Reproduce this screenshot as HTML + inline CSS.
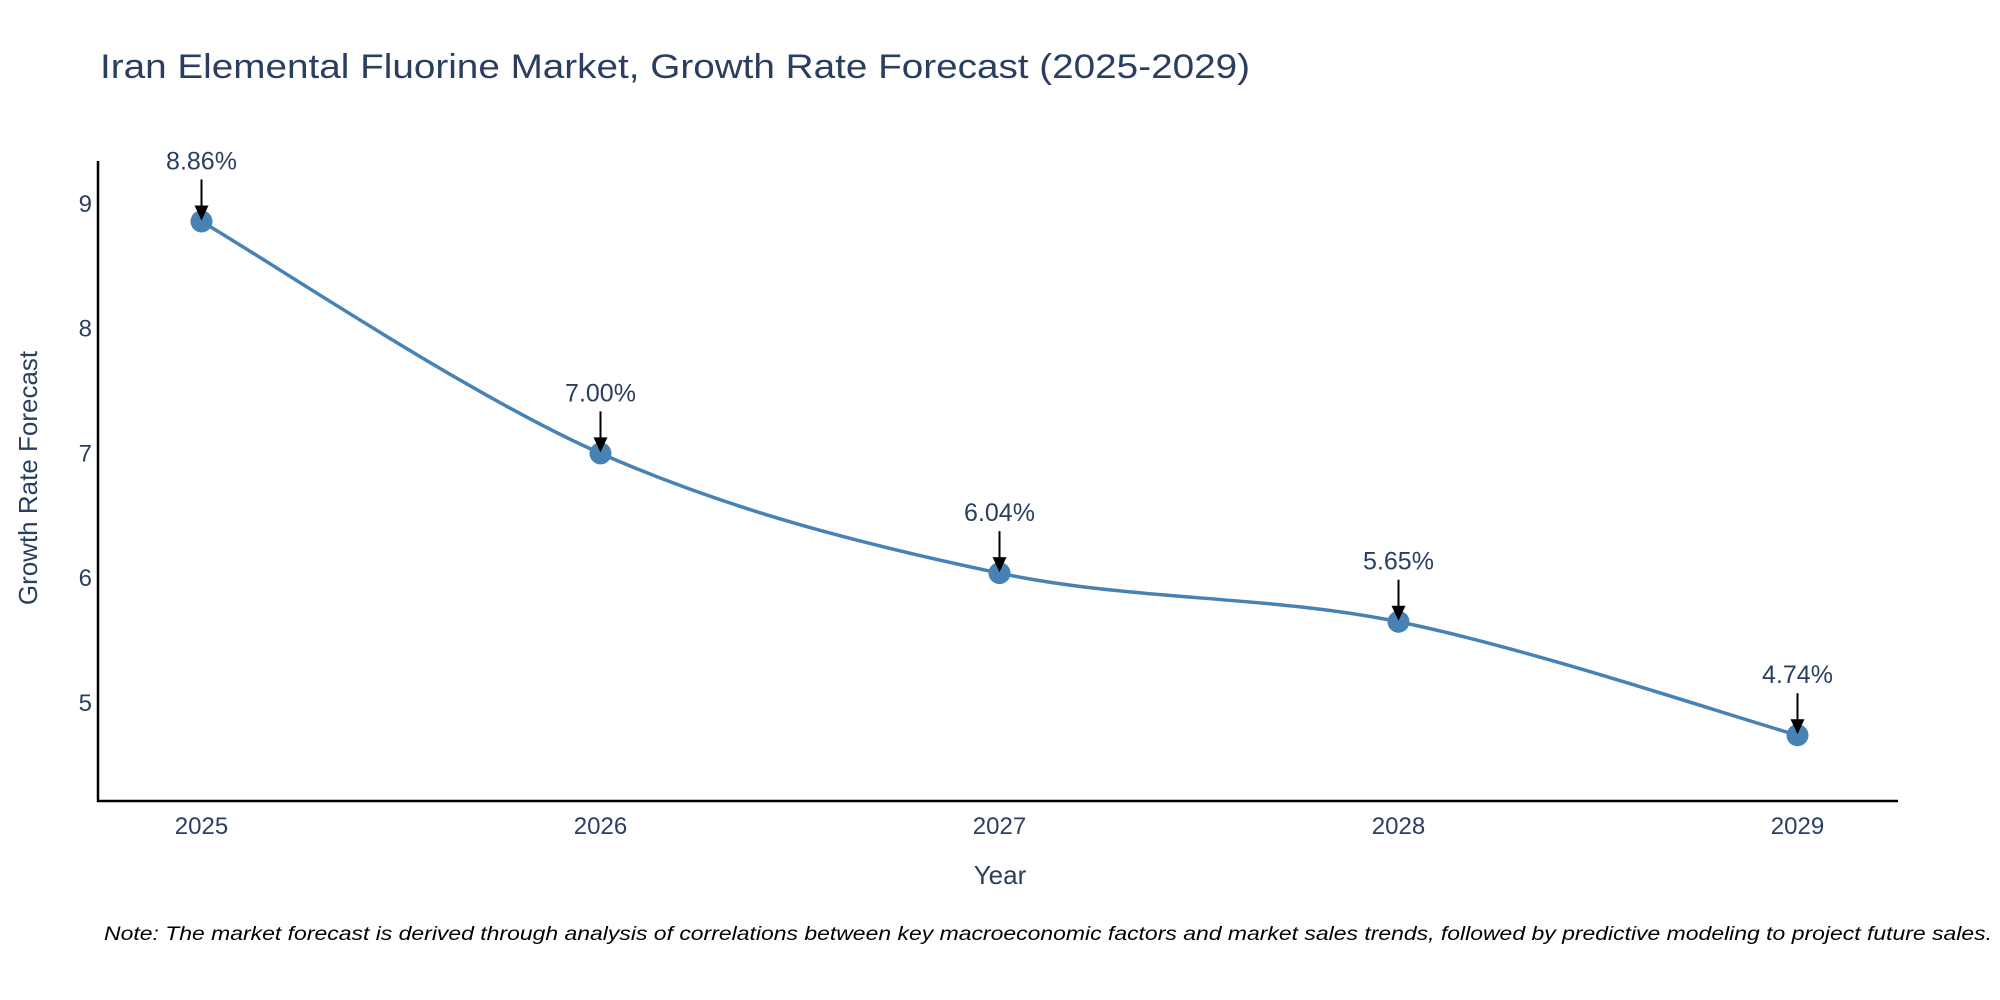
<!DOCTYPE html>
<html><head><meta charset="utf-8"><style>
html,body{margin:0;padding:0;background:#fff;}
svg{display:block;font-family:"Liberation Sans",sans-serif;}
</style></head><body>
<svg id="chart" width="2000" height="1000" viewBox="0 0 2000 1000">
<text x="100" y="78" font-size="34" fill="#2a3f5f" textLength="1150" lengthAdjust="spacingAndGlyphs">Iran Elemental Fluorine Market, Growth Rate Forecast (2025-2029)</text>
<g id="axes"></g>
<g id="series"></g>
<g id="annotations"></g>
<text x="1000" y="884" font-size="26" fill="#2a3f5f" text-anchor="middle">Year</text>
<text transform="translate(37,478) rotate(-90)" font-size="26" fill="#2a3f5f" text-anchor="middle">Growth Rate Forecast</text>
<text x="1992" y="940" font-size="19" font-style="italic" fill="#000" text-anchor="end" textLength="1888" lengthAdjust="spacingAndGlyphs">Note: The market forecast is derived through analysis of correlations between key macroeconomic factors and market sales trends, followed by predictive modeling to project future sales.</text>
</svg>
<script>
const years = ["2025","2026","2027","2028","2029"];
const rates = [8.86, 7.00, 6.04, 5.65, 4.74];
const rateLabels = ["8.86%","7.00%","6.04%","5.65%","4.74%"];
const yTicks = [5,6,7,8,9];

const NS="http://www.w3.org/2000/svg";
function mk(tag, attrs, parent){const e=document.createElementNS(NS,tag);for(const k in attrs)e.setAttribute(k,attrs[k]);parent.appendChild(e);return e;}
const xScale = i => 201.5 + i*399;
const yScale = v => 204 + (9 - v)*124.7;

const axes=document.getElementById('axes');
let yl=mk('line',{x1:98,y1:161,x2:98,y2:802,stroke:'#000','stroke-width':2.5},axes);


let xl=mk('line',{x1:97,y1:801,x2:1898,y2:801,stroke:'#000','stroke-width':2.5},axes);


yTicks.forEach(t=>{
  const e=mk('text',{x:92,y:yScale(t)+8,'font-size':24,fill:'#2a3f5f','text-anchor':'end'},axes);
  e.textContent=t;
  
  
});
years.forEach((y,i)=>{
  const e=mk('text',{x:xScale(i),y:834,'font-size':24,fill:'#2a3f5f','text-anchor':'middle'},axes);
  e.textContent=y;
  
  
});

const pts=rates.map((v,i)=>[xScale(i),yScale(v)]);
let d=`M${pts[0][0]},${pts[0][1]}`;
for(let i=0;i<pts.length-1;i++){
  const p0=pts[Math.max(0,i-1)],p1=pts[i],p2=pts[i+1],p3=pts[Math.min(pts.length-1,i+2)];
  const c1=[p1[0]+(p2[0]-p0[0])/6,p1[1]+(p2[1]-p0[1])/6];
  const c2=[p2[0]-(p3[0]-p1[0])/6,p2[1]-(p3[1]-p1[1])/6];
  d+=` C${c1[0]},${c1[1]} ${c2[0]},${c2[1]} ${p2[0]},${p2[1]}`;
}
const series=document.getElementById('series');
let ln=mk('path',{d:d,fill:'none',stroke:'#4682B4','stroke-width':3.5},series);


pts.forEach((p,i)=>{
  const c=mk('circle',{cx:p[0],cy:p[1],r:11,fill:'#4682B4'},series);
  
  
});
const ann=document.getElementById('annotations');
pts.forEach((p,i)=>{
  const l=mk('line',{x1:p[0],y1:p[1]-42,x2:p[0],y2:p[1]-12,stroke:'#000','stroke-width':2},ann);
  
  
  const h=mk('polygon',{points:`${p[0]-7},${p[1]-16} ${p[0]+7},${p[1]-16} ${p[0]},${p[1]-1}`,fill:'#000'},ann);
  
  
  const t=mk('text',{x:p[0],y:p[1]-52,'font-size':25,fill:'#2a3f5f','text-anchor':'middle'},ann);
  t.textContent=rateLabels[i];
  
  
});
</script>
</body></html>
